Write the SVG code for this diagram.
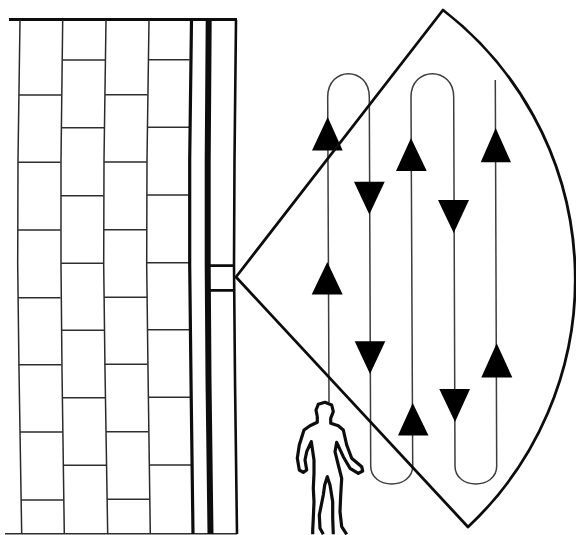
<svg xmlns="http://www.w3.org/2000/svg" width="576" height="535" viewBox="0 0 576 535">
<style>
.w{fill:none;stroke:#2a2a2a;stroke-width:1.5}
.h{fill:none;stroke:#2e2e2e;stroke-width:1.4}
.p{fill:none;stroke:#3c3c3c;stroke-width:1.5}
.t{fill:#000}
.k{fill:none;stroke:#0e0e0e;stroke-linejoin:round}
</style>
<defs><filter id="soft" x="0" y="0" width="100%" height="100%" filterUnits="objectBoundingBox"><feGaussianBlur stdDeviation="0.4"/></filter></defs>
<rect width="576" height="535" fill="#fff"/>
<g filter="url(#soft)">
<rect width="576" height="535" fill="#fff"/>
<g id="wall">
<path class="k" d="M9 19.5H237" stroke-width="2.8"/>
<path class="h" d="M5 533.8H237"/>
<path class="w" d="M20 20L18 160L17.7 265L19 370L21.7 534"/>
<path class="w" d="M62.7 20L61 160L61 265L62 370L64.3 534"/>
<path class="w" d="M106 20L104 160L103.7 265L105 370L107.7 534"/>
<path class="w" d="M149 20L147 160L146.7 265L148 370L150.3 534"/>
<path class="h" d="M19 95H61.5M18 162.3H60.5M18 230H60.5M18 297.7H60.5M18.5 364.7H61.5M20 432H62.5M21 500H63.5"/>
<path class="h" d="M62.5 60H105M61.5 127.7H104M61 195.7H103.5M61 263.3H104M61.5 330.3H104M62.5 397.7H105.5M63.5 465.3H106.5"/>
<path class="h" d="M105 94.7H147.5M104 162H147M104 229.7H147M104 297.3H147M104.5 364.3H147.5M106 431.7H148.5M107 499.3H149.5"/>
<path class="h" d="M148.5 59.7H189.5M147.5 127.3H189M147 195H188.5M147 262.7H189M147.5 329.7H189.5M148.5 397.3H190M149.5 465H191.5"/>
<path class="k" d="M191.5 20L189.7 160L189.7 265L191 380L193 534" stroke-width="3.2"/>
<path class="k" d="M208.7 20L207.7 160L207.7 265L208.5 380L210.5 534" stroke-width="6"/>
<path class="k" d="M236 20L234.5 160L234 265L235 380L237 534" stroke-width="2.6"/>
</g>
<g id="window">
<path class="k" d="M208 265.7H234M208 290.3H234" stroke-width="2.8"/>
</g>
<g id="connectors">
<path class="p" d="M329 402L327.7 97C327.7 66 369.3 66 369.3 97L370.7 466C370.7 490 412.7 490 412.7 466L411 97C411 66 453.7 66 453.7 97L455 466C455 490 496.7 490 496.7 466L495.3 80"/>
</g>
<g id="arrows">
<polygon class="t" points="327.7,117 312,150.5 342.7,150.5"/>
<polygon class="t" points="354,181.7 384.7,181.7 369.3,214.5"/>
<polygon class="t" points="411,138 396,171 426.7,171"/>
<polygon class="t" points="438,200 469,200 453.7,233"/>
<polygon class="t" points="495.7,128 480.7,162.3 511,162.3"/>
<polygon class="t" points="327.3,262 311.7,294.5 342.7,294.5"/>
<polygon class="t" points="354.7,341.3 385.3,341.3 370,374"/>
<polygon class="t" points="439.3,389 470,389 455,422"/>
<polygon class="t" points="496.7,343.3 481.3,377.5 512.3,377.5"/>
<polygon class="t" points="412.7,403 398,435.5 428.5,435.5"/>
</g>
<g id="coverage">
<path class="k" d="M236 277L443 10A340 340 0 0 1 468 527Z" stroke-width="2.8"/>
</g>
<g id="person">
<path class="k" stroke-width="3.2" d="M312.7 534.3L312.7 530L313.3 518.3L314 501.7L313.3 488.3L314 473.3L314 460L311.3 441.7L306.7 451.7L305 460L306.7 470L303.3 472.3L299.3 470L297.3 458.3L299.3 445L304 430L310 425.7L317.3 422.3L317.3 416.7L316 410L318.3 404.3L325 402.3L331.7 405L333.3 411.7L330.7 418.3L330.7 423.3L338.3 425.7L343.3 430L346.7 445L351.7 458.3L361.7 466.7L362.7 471L358.3 473.3L350 468.3L343.3 456.7L336.7 442.3L335 451.7L338.3 465L341.7 478.3L340.7 495L340 511.7L341.7 526.7L346.7 534.3"/>
<path class="k" stroke-width="3.2" d="M333.3 534.3L332.7 518.3L332.7 501.7L330 485L327.3 476.7L324.7 485L323.3 495L319.3 515L320 528.3L323.3 534.3"/>
</g>
</g>
</svg>
